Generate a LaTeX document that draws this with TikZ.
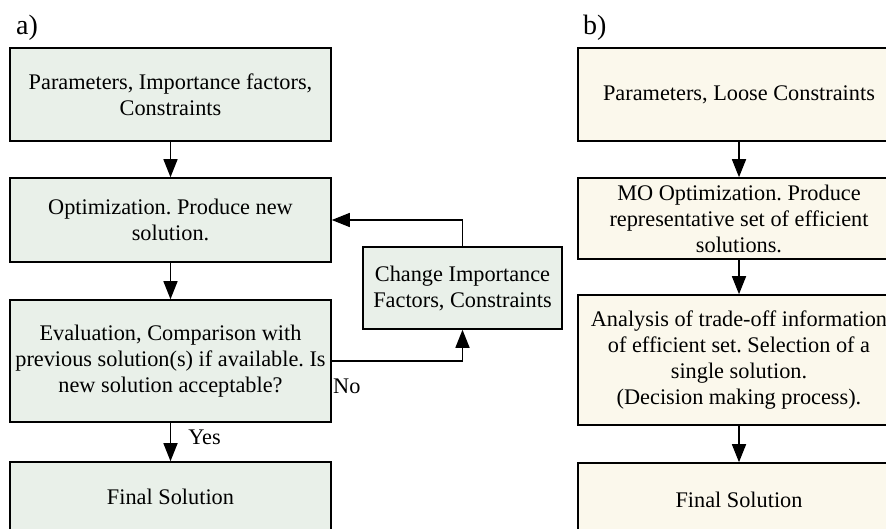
\documentclass[tikz,border=0pt]{standalone}
\usepackage{fontspec}
\setmainfont{Liberation Serif}
\usetikzlibrary{arrows.meta}
\frenchspacing
\definecolor{fillA}{RGB}{233,240,233}
\definecolor{fillB}{RGB}{251,248,236}
\tikzset{
  bx/.style={draw=black, line width=1.6pt, rectangle, align=center, inner sep=2pt,
    font=\fontsize{22.3}{26}\selectfont},
  boxA/.style={bx, fill=fillA, minimum width=321pt},
  boxB/.style={bx, fill=fillB, minimum width=322pt},
  arr/.style={line width=1.6pt, -{Triangle[length=18pt,width=14pt]}},
  lbl/.style={font=\fontsize{22.3}{26}\selectfont, inner sep=0pt},
  ttl/.style={font=\fontsize{28}{30}\selectfont, inner sep=0pt}
}
\begin{document}
\begin{tikzpicture}[x=1pt,y=-1pt]
\useasboundingbox (0,0) rectangle (886,529);
\clip (0,0) rectangle (886,529);
\fill[white] (0,0) rectangle (886,529);
% a)
\node[ttl, anchor=west] (ta) at (16,28) {a)};
\node[boxA, minimum height=93pt] (a1) at (170.5,94.5) {Parameters, Importance factors,\\Constraints};
\node[boxA, minimum height=84pt] (a2) at (170.5,220) {Optimization. Produce new\\solution.};
\node[boxA, minimum height=122pt] (a3) at (170.5,361) {Evaluation, Comparison with\\previous solution(s) if available. Is\\new solution acceptable?};
\node[boxA, minimum height=70pt] (a4) at (170.5,497) {Final Solution};
\node[bx, fill=fillA, minimum width=199pt, minimum height=82pt] (c) at (462.5,288) {Change Importance\\Factors, Constraints};
\draw[arr] (a1) -- (a2);
\draw[arr] (a2) -- (a3);
\draw[arr] (a3) -- (a4) node[lbl, pos=0.38, anchor=west, xshift=17pt] (yes) {Yes};
\draw[arr] (c.north) |- (a2.east);
\draw[arr] (a3.east) -| (c.south);
\node[lbl, anchor=west] (no) at (333,386) {No};
% b)
\node[ttl, anchor=west] (tb) at (583,28) {b)};
\node[boxB, minimum height=93pt] (b1) at (739,94.5) {Parameters, Loose Constraints};
\node[boxB, minimum height=81pt] (b2) at (739,218.5) {MO Optimization. Produce\\representative set of efficient\\solutions.};
\node[boxB, minimum height=130pt] (b3) at (739,360) {Analysis of trade-off information\\of efficient set. Selection of a\\single solution.\\(Decision making process).};
\node[boxB, minimum height=74pt] (b4) at (739,500) {Final Solution};
\draw[arr] (b1) -- (b2);
\draw[arr] (b2) -- (b3);
\draw[arr] (b3) -- (b4);
\end{tikzpicture}
\end{document}
